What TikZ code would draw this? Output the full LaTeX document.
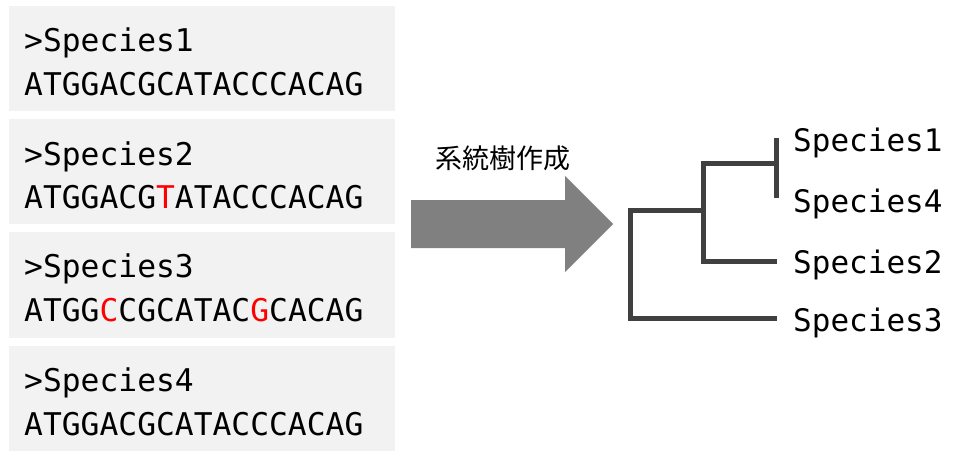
\documentclass[tikz,border=0pt]{standalone}
\usepackage{fontspec}
\setmonofont{DejaVu Sans Mono}
\newfontfamily\cjk{Noto Sans CJK JP}
\definecolor{boxgray}{HTML}{F2F2F2}
\definecolor{arrowgray}{HTML}{808080}
\definecolor{treegray}{HTML}{404040}
\definecolor{mutred}{HTML}{FF0000}
\begin{document}
\begin{tikzpicture}[x=1pt,y=-1pt,
  seqbox/.style={fill=boxgray, draw=none, minimum width=386pt, minimum height=105pt, anchor=north west, inner sep=0pt},
  seqtxt/.style={anchor=base west, inner sep=0pt, font=\fontsize{31.3}{40}\selectfont\ttfamily},
  treeline/.style={draw=treegray, line width=5pt, line join=miter},
  leaf/.style={anchor=base west, inner sep=0pt, font=\fontsize{31}{40}\selectfont\ttfamily},
  mut/.style={text=mutred}
]
\useasboundingbox[fill=white] (0,0) rectangle (966,466);
% sequence boxes
\node[seqbox] (b1) at (9,6) {};
\node[seqbox] (b2) at (9,119) {};
\node[seqbox, minimum height=106pt] (b3) at (9,232) {};
\node[seqbox] (b4) at (9,346) {};
% sequence texts
\node[seqtxt] (h1) at (24,51) {>Species1};
\node[seqtxt] (s1) at (24,95) {ATGGACGCATACCCACAG};
\node[seqtxt] (h2) at (24,165) {>Species2};
\node[seqtxt] (s2) at (24,208) {ATGGACG\textcolor{mutred}{T}ATACCCACAG};
\node[seqtxt] (h3) at (24,277) {>Species3};
\node[seqtxt] (s3) at (24,321) {ATGG\textcolor{mutred}{C}CGCATAC\textcolor{mutred}{G}CACAG};
\node[seqtxt] (h4) at (24,391) {>Species4};
\node[seqtxt] (s4) at (24,435) {ATGGACGCATACCCACAG};
% big arrow
\fill[arrowgray] (411,200) -- (565,200) -- (565,176) -- (613,224) -- (565,272) -- (565,248) -- (411,248) -- cycle;
\node[font=\fontsize{27}{30}\selectfont\cjk, inner sep=0pt] (lbl) at (503,158) {系統樹作成};
% tree
\coordinate (root) at (630,210);
\coordinate (inner) at (703,163);
\draw[treeline] (703,210) -- (630,210) -- (630,318) -- (777,318);
\draw[treeline] (776,163) -- (703,163) -- (703,261) -- (777,261);
\draw[treeline] (776,138) -- (776,198);
% leaf labels
\node[leaf] (l1) at (793,151) {Species1};
\node[leaf] (l4) at (793,212) {Species4};
\node[leaf] (l2) at (793,273) {Species2};
\node[leaf] (l3) at (793,331) {Species3};
\end{tikzpicture}
\end{document}
